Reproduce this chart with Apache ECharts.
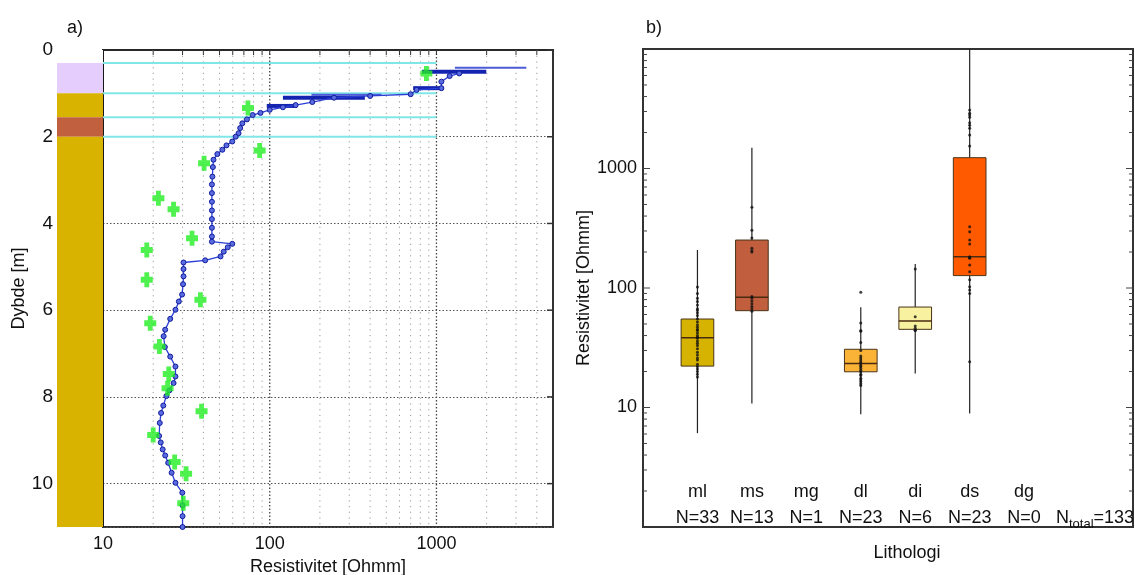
<!DOCTYPE html>
<html><head><meta charset="utf-8">
<script src="https://cdn.jsdelivr.net/npm/echarts@6/dist/echarts.min.js"></script>
<style>html,body{margin:0;padding:0;background:#fff}#c{width:1135px;height:575px}</style>
</head><body><div id="c"></div>
<script>
// ---------- Panel a) data ----------
const depthTicks = [0, 2, 4, 6, 8, 10];
const layerTop    = [0, 0.3, 1.0, 1.55, 2.0];
const layerBottom = [0.3, 1.0, 1.55, 2.0, 11];
const layerType   = ['none', 'lavender', 'ml', 'ms', 'ml'];
const boundaryDepths = [0.3, 1.0, 1.55, 2.0];
const boundaryFrom = 10;
const boundaryTo = 1000;
const xGridValues = [20,30,40,50,60,70,80,90,100,200,300,400,500,600,700,800,900,1000,2000,3000,4000];
const xMajorValues = [100, 1000];

const curveDepth = [0.54,0.6,0.73,0.88,0.92,1.02,1.06,1.1,1.2,1.27,1.32,1.38,1.45,1.5,1.6,1.69,1.8,1.92,2.0,2.11,2.2,2.3,2.4,2.53,2.7,2.92,3.1,3.3,3.5,3.7,3.9,4.1,4.3,4.42,4.47,4.55,4.65,4.76,4.85,4.9,5.05,5.22,5.4,5.64,5.8,5.99,6.2,6.45,6.6,6.85,7.07,7.3,7.53,7.68,7.85,7.98,8.2,8.37,8.6,8.9,9.05,9.21,9.35,9.52,9.75,9.98,10.21,10.5,10.75,11.0];
const curveRes = [1370,1200,1070,1070,760,700,400,243,180,143,120,100,88,79,73,68.5,66.5,65,62.5,59.6,55,52,48.5,46,45.6,45.3,45,45,45,45,45,45,45,45,59.6,56,53,50.7,41,30.4,30.4,30.4,30.2,29.8,28.5,27.2,25.3,23.6,23.1,23.5,25.3,27.2,27.2,26.5,25,24,23,22.3,21.9,21.7,22.2,22.8,23.6,24.6,25.8,27.2,29.9,30,30,30];

const crossDepth = [0.54,1.34,2.32,2.61,3.42,3.67,4.34,4.61,5.3,5.76,6.3,6.84,7.47,7.8,8.33,8.88,9.5,9.77,10.45];
const crossRes   = [870,74,87,40.4,21.5,26.5,34.2,18.3,18.3,38.4,19.2,21.8,24.8,24.4,39,20,26.9,31.5,30.3];

const errDepth = [0.41, 0.5, 0.88, 1.03, 1.1, 1.29];
const errLow   = [1290, 820, 725, 178, 120, 96];
const errHigh  = [3460, 1990, 1100, 468, 372, 146];
const errKind  = [0, 1, 1, 0, 1, 1];

// ---------- Panel b) data ----------
const lithCats = ['ml','ms','mg','dl','di','ds','dg'];
const lithN    = [33, 13, 1, 23, 6, 23, 0];
const nTotal = 133;
const boxMin = [6.1, 10.8, null, 8.8, 19.3, 8.9, null];
const boxQ1  = [22.2, 64.6, null, 19.9, 45.1, 127, null];
const boxMed = [38.4, 83.6, null, 23.4, 53, 183, null];
const boxQ3  = [55, 252, null, 30.7, 69.3, 1232, null];
const boxMax = [208, 1493, null, 68.9, 159, 10000, null];
const dotsMl = [102,90,82,77,72,67,65,62,59,55,52,49,47,45,44,42,40,38.7,38,36,34.5,33,31,29,27.5,26,25,23,22,21,20,19,18];
const dotsMs = [473,305,262,215,205,200,85,82,78,74,70,67,64];
const dotsMg = [];
const dotsDl = [92,51,44,43.5,35,30,27,26,25,24,23.4,22.5,22,21.3,20.5,19.9,19,18.5,17.6,17,16.4,15.8,15.3];
const dotsDi = [144,57.5,48,46,44.4,44];
const dotsDs = [3090,2900,2800,2690,2420,2300,2170,1905,1542,326,296,252,233,183,179,177,156,137,117,102.6,96,90,24.2];
const dotsDg = [];
const yMinorTicks = [2,3,4,5,6,7,8,9,20,30,40,50,60,70,80,90,200,300,400,500,600,700,800,900,2000,3000,4000,5000,6000,7000,8000,9000];
const yMajorTicks = [10, 100, 1000];

// ---------- styling ----------
const FONT = '"Liberation Sans", Arial, sans-serif';
const layerColors = {none:'#ffffff', lavender:'#e5cdfd', ml:'#d8b400', ms:'#c0603e'};
const lithColors = ['#d6b300','#c05e3e','#b0b0b0','#fbb337','#f8f1a0','#ff5a00','#888888'];
const isPow10 = v => Math.abs(Math.log10(v) - Math.round(Math.log10(v))) < 1e-6;

const catData = [''].concat(lithCats, ['Ntotal', '']);
const dotLists = [dotsMl, dotsMs, dotsMg, dotsDl, dotsDi, dotsDs, dotsDg];
const dotData = [];
dotLists.forEach((arr, i) => arr.forEach(v => dotData.push([i + 1, v])));
const boxData = [];
lithCats.forEach((c, i) => {
  if (boxMed[i] != null) boxData.push([i + 1, boxMed[i], boxMin[i], boxQ1[i], boxQ3[i], boxMax[i], i]);
});

const chart = echarts.init(document.getElementById('c'), null, {renderer: 'canvas'});
const option = {
  animation: false,
  textStyle: {fontFamily: FONT},
  title: [
    {text: 'a)', left: 62, top: 14, textStyle: {fontSize: 18, fontWeight: 'normal', color: '#111', fontFamily: FONT}},
    {text: 'b)', left: 641, top: 14, textStyle: {fontSize: 18, fontWeight: 'normal', color: '#111', fontFamily: FONT}}
  ],
  grid: [
    {left: 57, top: 50, width: 46, height: 477, show: false, outerBoundsMode: 'none', containLabel: false},
    {left: 103, top: 50, width: 450, height: 477, show: true, borderColor: '#333', borderWidth: 2, outerBoundsMode: 'none', containLabel: false},
    {left: 643, top: 49, width: 490, height: 478, show: true, borderColor: '#333', borderWidth: 2, outerBoundsMode: 'none', containLabel: false}
  ],
  xAxis: [
    {gridIndex: 0, type: 'value', min: 0, max: 1, show: false},
    {gridIndex: 1, type: 'log', logBase: 10, min: 10, max: 5000,
      axisLine: {show: true, lineStyle: {color: '#222', width: 1.5}},
      axisTick: {show: false}, splitLine: {show: false},
      axisLabel: {formatter: v => isPow10(v) ? String(Math.round(v)) : '', fontSize: 18, color: '#111', margin: 8, fontFamily: FONT},
      name: 'Resistivitet [Ohmm]', nameLocation: 'middle', nameGap: 29,
      nameTextStyle: {fontSize: 18, color: '#111', fontFamily: FONT}},
    {gridIndex: 2, type: 'category', data: catData, boundaryGap: false,
      axisLine: {show: true, lineStyle: {color: '#333', width: 2}},
      axisTick: {show: false}, splitLine: {show: false},
      axisLabel: {inside: true, interval: 0, margin: -4, fontFamily: FONT,
        formatter: (val, idx) => {
          if (idx >= 1 && idx <= 7) return '{a|' + lithCats[idx - 1] + '}\n{a|N=' + lithN[idx - 1] + '}';
          if (idx === 8) return '{a| }\n{p|}{a|N}{s|total}{a|=' + nTotal + '}';
          return '';
        },
        rich: {
          a: {fontSize: 18, lineHeight: 26, color: '#111', fontFamily: FONT},
          s: {fontSize: 13, lineHeight: 13, padding: [22, 0, 0, 0], verticalAlign: 'bottom', color: '#111', fontFamily: FONT},
          p: {width: 33}
        }},
      name: 'Lithologi', nameLocation: 'middle', nameGap: 17,
      nameTextStyle: {fontSize: 18, color: '#111', padding: [0, 0, 0, 38], fontFamily: FONT}}
  ],
  yAxis: [
    {gridIndex: 0, type: 'value', inverse: true, min: 0, max: 11, interval: 2,
      axisLine: {show: false}, axisTick: {show: false}, splitLine: {show: false},
      axisLabel: {formatter: v => depthTicks.includes(v) ? String(v) : '', fontSize: 19, color: '#111', margin: 4, fontFamily: FONT},
      name: 'Dybde [m]', nameLocation: 'middle', nameGap: 23,
      nameTextStyle: {fontSize: 18, color: '#111', fontFamily: FONT}},
    {gridIndex: 1, type: 'value', inverse: true, min: 0, max: 11, interval: 2,
      axisLine: {show: true, lineStyle: {color: '#111', width: 1.5}},
      axisTick: {show: false}, axisLabel: {show: false},
      splitLine: {show: true, lineStyle: {color: '#555', type: [1.5, 2], width: 1}}},
    {gridIndex: 2, type: 'log', logBase: 10, min: 1, max: 10000,
      axisLine: {show: true, lineStyle: {color: '#333', width: 2}},
      axisTick: {show: false}, splitLine: {show: false},
      axisLabel: {formatter: v => (isPow10(v) && v >= 10 && v <= 1000) ? String(Math.round(v)) : '', fontSize: 18, color: '#111', margin: 6, fontFamily: FONT},
      name: 'Resistivitet [Ohmm]', nameLocation: 'middle', nameGap: 42,
      nameTextStyle: {fontSize: 18, color: '#111', fontFamily: FONT}}
  ],
  series: [
    // lithology column
    {type: 'custom', xAxisIndex: 0, yAxisIndex: 0, silent: true, z: 1,
      data: layerTop.map((t, i) => [0, t, layerBottom[i], i]),
      renderItem: (params, api) => {
        const i = api.value(3);
        const p1 = api.coord([0, api.value(1)]);
        const p2 = api.coord([1, api.value(2)]);
        return {type: 'rect', shape: {x: p1[0], y: p1[1], width: p2[0] - p1[0], height: p2[1] - p1[1]},
          style: {fill: layerColors[layerType[i]]}};
      }},
    // vertical dotted grid lines (log minor + major)
    {type: 'custom', xAxisIndex: 1, yAxisIndex: 1, silent: true, z: 1,
      data: xGridValues.map(v => [v, 0]),
      renderItem: (params, api) => {
        const v = api.value(0);
        const p1 = api.coord([v, 0]);
        const p2 = api.coord([v, 11]);
        const major = xMajorValues.includes(v);
        return {type: 'group', children: [
          {type: 'line', shape: {x1: p1[0], y1: p1[1], x2: p2[0], y2: p2[1]},
            style: {stroke: major ? '#444' : '#999', lineWidth: major ? 1.3 : 1, lineDash: major ? [1.5, 2] : [1.2, 4.5]}},
          {type: 'line', shape: {x1: p1[0], y1: p1[1], x2: p1[0], y2: p1[1] + 5},
            style: {stroke: '#333', lineWidth: 1}}
        ]};
      }},
    // right-edge depth ticks
    {type: 'custom', xAxisIndex: 1, yAxisIndex: 1, silent: true, z: 2,
      data: depthTicks.map(d => [5000, d]),
      renderItem: (params, api) => {
        const p = api.coord([5000, api.value(1)]);
        return {type: 'line', shape: {x1: p[0] - 6, y1: p[1], x2: p[0], y2: p[1]}, style: {stroke: '#333', lineWidth: 1.5}};
      }},
    // layer boundary lines (cyan)
    {type: 'custom', xAxisIndex: 1, yAxisIndex: 1, silent: true, z: 2,
      data: boundaryDepths.map(d => [boundaryFrom, d, boundaryTo]),
      renderItem: (params, api) => {
        const p1 = api.coord([api.value(0), api.value(1)]);
        const p2 = api.coord([api.value(2), api.value(1)]);
        return {type: 'line', shape: {x1: p1[0], y1: p1[1], x2: p2[0], y2: p2[1]}, style: {stroke: '#80e6e8', lineWidth: 2}};
      }},
    // horizontal error bars
    {type: 'custom', xAxisIndex: 1, yAxisIndex: 1, silent: true, z: 3,
      data: errDepth.map((d, i) => [errLow[i], d, errHigh[i], errKind[i]]),
      renderItem: (params, api) => {
        const p1 = api.coord([api.value(0), api.value(1)]);
        const p2 = api.coord([api.value(2), api.value(1)]);
        const thick = api.value(3) === 1;
        return {type: 'line', shape: {x1: p1[0], y1: p1[1], x2: p2[0], y2: p2[1]},
          style: {stroke: thick ? '#1424b0' : '#4c5cd6', lineWidth: thick ? 4 : 2}};
      }},
    // inverted model curve
    {type: 'line', xAxisIndex: 1, yAxisIndex: 1, z: 4, silent: true,
      data: curveRes.map((r, i) => [r, curveDepth[i]]),
      showSymbol: true, symbol: 'circle', symbolSize: 5,
      lineStyle: {color: '#2b3fd6', width: 1.3},
      itemStyle: {color: '#5a6be0', borderColor: '#101c9c', borderWidth: 1}},
    // green crosses
    {type: 'scatter', xAxisIndex: 1, yAxisIndex: 1, z: 5, silent: true,
      data: crossRes.map((r, i) => [r, crossDepth[i]]),
      symbol: 'path://M3,0L7,0L7,3L10,3L10,7L7,7L7,10L3,10L3,7L0,7L0,3L3,3Z',
      symbolSize: [12, 15], itemStyle: {color: '#22ee22'}},
    // panel b ticks (minor + major, both sides)
    {type: 'custom', xAxisIndex: 2, yAxisIndex: 2, silent: true, z: 2,
      data: yMinorTicks.map(v => [0, v, 0]).concat(yMajorTicks.map(v => [0, v, 1])),
      renderItem: (params, api) => {
        const v = api.value(1);
        const len = api.value(2) === 1 ? 7 : 4;
        const pl = api.coord([0, v]);
        const pr = api.coord([9, v]);
        return {type: 'group', children: [
          {type: 'line', shape: {x1: pl[0], y1: pl[1], x2: pl[0] + len, y2: pl[1]}, style: {stroke: '#444', lineWidth: 1}},
          {type: 'line', shape: {x1: pr[0] - len, y1: pr[1], x2: pr[0], y2: pr[1]}, style: {stroke: '#444', lineWidth: 1}}
        ]};
      }},
    // boxplots
    {type: 'custom', xAxisIndex: 2, yAxisIndex: 2, silent: true, z: 3,
      data: boxData,
      renderItem: (params, api) => {
        const x = api.value(0);
        const half = api.size([1, 0])[0] * 0.3;
        const pMed = api.coord([x, api.value(1)]);
        const pMin = api.coord([x, api.value(2)]);
        const pQ1 = api.coord([x, api.value(3)]);
        const pQ3 = api.coord([x, api.value(4)]);
        const pMax = api.coord([x, api.value(5)]);
        const col = lithColors[api.value(6)];
        const cx = pMed[0];
        return {type: 'group', children: [
          {type: 'line', shape: {x1: cx, y1: pMin[1], x2: cx, y2: pMax[1]}, style: {stroke: '#222', lineWidth: 1.2}},
          {type: 'rect', shape: {x: cx - half, y: pQ3[1], width: 2 * half, height: pQ1[1] - pQ3[1]},
            style: {fill: col, stroke: '#4a3418', lineWidth: 1}},
          {type: 'line', shape: {x1: cx - half, y1: pMed[1], x2: cx + half, y2: pMed[1]}, style: {stroke: '#4a2a10', lineWidth: 1.5}}
        ]};
      }},
    // individual values
    {type: 'scatter', xAxisIndex: 2, yAxisIndex: 2, z: 4, silent: true,
      data: dotData, symbol: 'circle', symbolSize: 3, itemStyle: {color: '#111'}}
  ]
};
chart.setOption(option);
</script>
</body></html>
